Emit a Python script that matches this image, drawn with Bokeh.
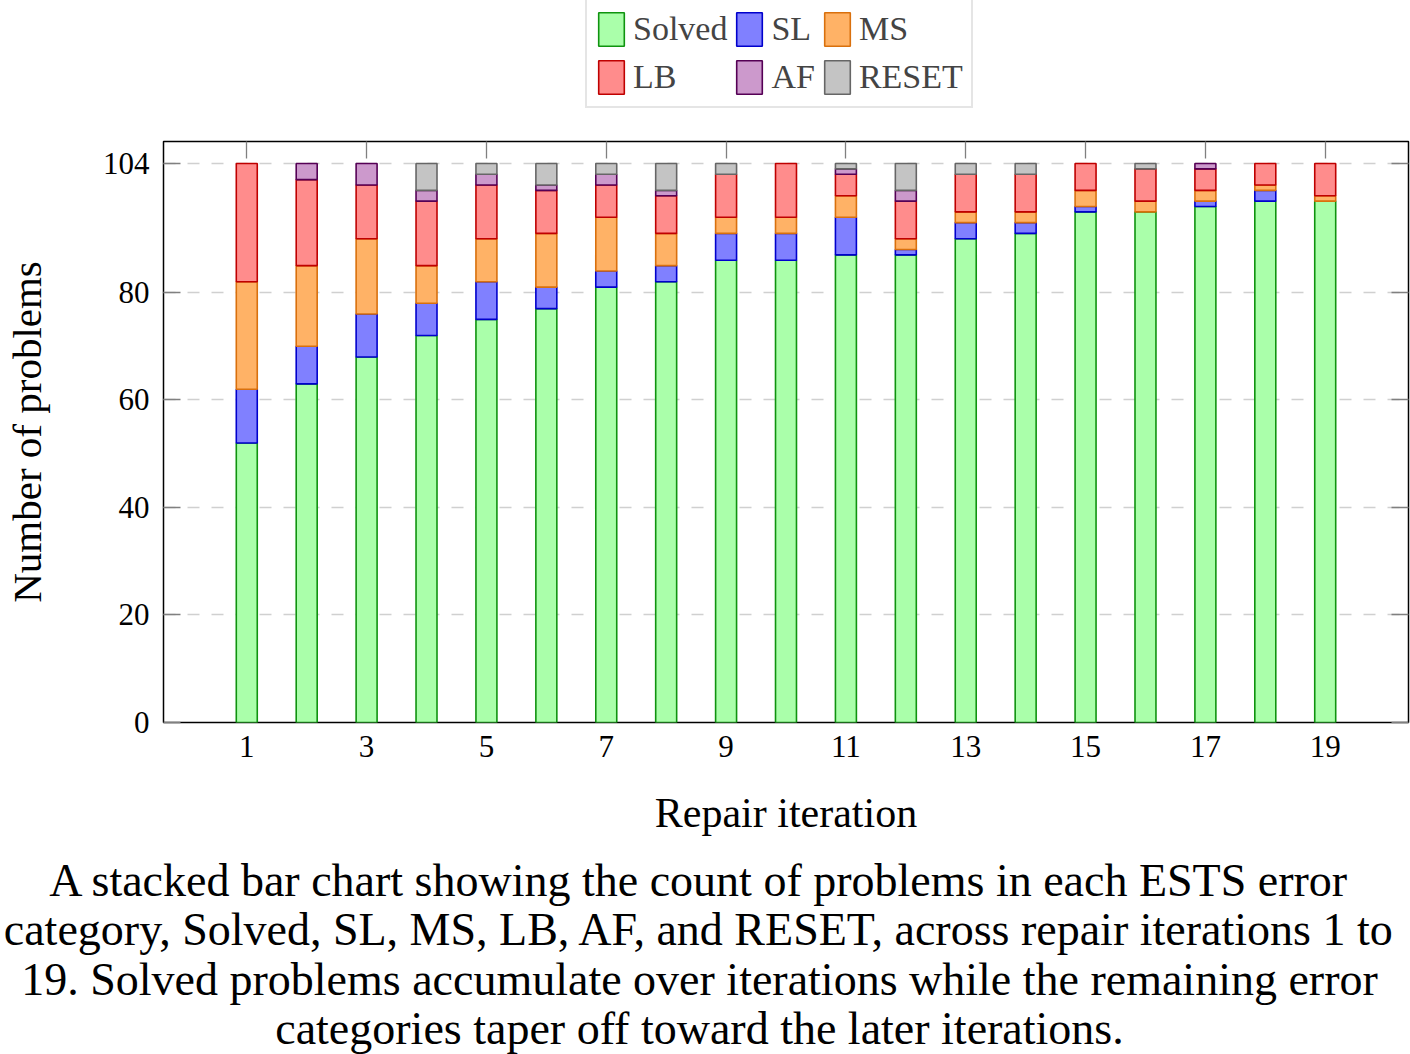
from bokeh.plotting import figure
from bokeh.layouts import column
from bokeh.models import (Range1d, LinearAxis, FixedTicker, Legend, LegendItem,
                          Label, CustomJSTickFormatter, ColumnDataSource)
from bokeh.embed import file_html
from bokeh.resources import INLINE

# Problem counts per ESTS error category at each repair iteration
iterations = list(range(1, 20))
solved = [52, 63, 68, 72, 75, 77, 81, 82, 86, 86, 87, 87, 90, 91, 95, 95, 96, 97, 97]
sl     = [10,  7,  8,  6,  7,  4,  3,  3,  5,  5,  7,  1,  3,  2,  1,  0,  1,  2,  0]
ms     = [20, 15, 14,  7,  8, 10, 10,  6,  3,  3,  4,  2,  2,  2,  3,  2,  2,  1,  1]
lb     = [22, 16, 10, 12, 10,  8,  6,  7,  8, 10,  4,  7,  7,  7,  5,  6,  4,  4,  6]
af     = [ 0,  3,  4,  2,  2,  1,  2,  1,  0,  0,  1,  2,  0,  0,  0,  0,  1,  0,  0]
reset  = [ 0,  0,  0,  5,  2,  4,  2,  5,  2,  0,  1,  5,  2,  2,  0,  1,  0,  0,  0]

categories = ["Solved", "SL", "MS", "LB", "AF", "RESET"]
series = [solved, sl, ms, lb, af, reset]
fills = ["#aaffaa", "#8080ff", "#ffb266", "#ff8c8c", "#cc99cc", "#c4c4c4"]
lines = ["#0f930f", "#0000cc", "#d9700d", "#bf0000", "#550055", "#666666"]

x_ticks = list(range(1, 20, 2))
y_ticks = [0, 20, 40, 60, 80, 104]

caption = [
    "A stacked bar chart showing the count of problems in each ESTS error",
    "category, Solved, SL, MS, LB, AF, and RESET, across repair iterations 1 to",
    "19. Solved problems accumulate over iterations while the remaining error",
    "categories taper off toward the later iterations.",
]

FONT = "Liberation Serif"
W = 1410
TOP_STRIP = 131      # legend strip above the chart
CHART_TOP = 10       # chart border above the frame
CHART_BOTTOM = 132   # chart border below the frame
FRAME_H = 581
CAP_H = 1054 - TOP_STRIP - CHART_TOP - FRAME_H - CHART_BOTTOM


def bare(height):
    f = figure(width=W, height=height, min_border=0, x_axis_type=None, y_axis_type=None,
               x_range=Range1d(0, 1), y_range=Range1d(0, 1), frame_align=False,
               output_backend="svg", toolbar_location=None)
    f.outline_line_color = None
    f.grid.grid_line_color = None
    return f


def stacked(vals_list):
    """Segment bottoms/tops per category, leaving out empty segments."""
    out = []
    base = [0] * len(iterations)
    for vals in vals_list:
        xs, b, t = [], [], []
        for i, v in enumerate(vals):
            if v > 0:
                xs.append(iterations[i])
                b.append(base[i])
                t.append(base[i] + v)
            base[i] += v
        out.append(dict(x=xs, bottom=b, top=t))
    return out


segments = stacked(series)

# ---- main chart ----
p = figure(frame_width=1245, frame_height=FRAME_H,
           min_border_left=163, min_border_right=2,
           min_border_top=CHART_TOP, min_border_bottom=CHART_BOTTOM,
           x_range=Range1d(-0.39, 20.39), y_range=Range1d(0, 108.09),
           frame_align=False, output_backend="svg", toolbar_location=None,
           x_axis_label="Repair iteration", y_axis_label="Number of problems")

p.outline_line_color = "black"
p.outline_line_width = 1.5

for seg, fc, lc in zip(segments, fills, lines):
    p.vbar(x="x", bottom="bottom", top="top", width=0.35, source=ColumnDataSource(seg),
           fill_color=fc, line_color=lc, line_width=1.6)

for ax in p.xaxis:
    ax.ticker = FixedTicker(ticks=x_ticks)
    ax.major_tick_in = 0
    ax.major_tick_out = 0
    ax.minor_tick_line_color = None
    ax.axis_line_color = None
    ax.major_label_standoff = 13
    ax.major_label_text_font = FONT
    ax.major_label_text_font_size = "31px"
    ax.major_label_text_color = "black"
    ax.axis_label_text_font = FONT
    ax.axis_label_text_font_size = "42px"
    ax.axis_label_text_font_style = "normal"
    ax.axis_label_text_color = "black"
    ax.axis_label_standoff = 30

for ax in p.yaxis:
    ax.ticker = FixedTicker(ticks=y_ticks)
    ax.major_tick_in = 17
    ax.major_tick_out = 0
    ax.major_tick_line_color = "#808080"
    ax.major_tick_line_width = 1.3
    ax.minor_tick_line_color = None
    ax.axis_line_color = None
    ax.major_label_standoff = 14
    ax.major_label_text_font = FONT
    ax.major_label_text_font_size = "31px"
    ax.major_label_text_color = "black"
    ax.axis_label_text_font = FONT
    ax.axis_label_text_font_size = "41px"
    ax.axis_label_text_font_style = "normal"
    ax.axis_label_text_color = "black"
    ax.axis_label_standoff = 50

blank = CustomJSTickFormatter(code="return ''")
for side, ticks in (("above", x_ticks), ("right", y_ticks)):
    ax = LinearAxis(ticker=FixedTicker(ticks=ticks), formatter=blank,
                    major_tick_in=17, major_tick_out=0,
                    major_tick_line_color="#808080", major_tick_line_width=1.3,
                    minor_tick_line_color=None, axis_line_color=None,
                    major_label_standoff=0, major_label_text_font_size="1px")
    p.add_layout(ax, side)

p.xgrid.grid_line_color = None
p.ygrid.ticker = FixedTicker(ticks=y_ticks)
p.ygrid.grid_line_color = "#d0d0d0"
p.ygrid.grid_line_width = 1.5
p.ygrid.grid_line_dash = "12 12"

# ---- legend strip (hidden copies of the bar series carry the legend swatches) ----
lg = bare(TOP_STRIP)
items = []
for name, seg, fc, lc in zip(categories, segments, fills, lines):
    r = lg.vbar(x="x", bottom="bottom", top="top", width=0.35, source=ColumnDataSource(seg),
                fill_color=fc, line_color=lc, line_width=1.6, visible=False)
    items.append(LegendItem(label=name, renderers=[r]))
LEG_H = 8 + 42 + 6 + 42 + 8
legend = Legend(items=items, location=(585, TOP_STRIP - LEG_H - 2),
                orientation="horizontal", ncols=3,
                glyph_width=32, glyph_height=42, label_standoff=6,
                spacing=6, padding=8,
                label_text_font=FONT, label_text_font_size="34px",
                inactive_fill_alpha=0.0, click_policy="none",
                border_line_color="#cccccc", border_line_width=2,
                background_fill_color="white", background_fill_alpha=1.0)
lg.add_layout(legend, "center")

# ---- caption strip ----
cap = bare(CAP_H)
baselines = [880, 929, 979, 1028]
for line, base in zip(caption, baselines):
    cap.add_layout(Label(x=699, y=1054 - base, x_units="screen", y_units="screen",
                         text=line, text_align="center", text_baseline="alphabetic",
                         text_font=FONT, text_font_size="46px", text_color="black"))

layout = column(lg, p, cap, spacing=0)
open("out.html", "w").write(file_html(layout, INLINE))
